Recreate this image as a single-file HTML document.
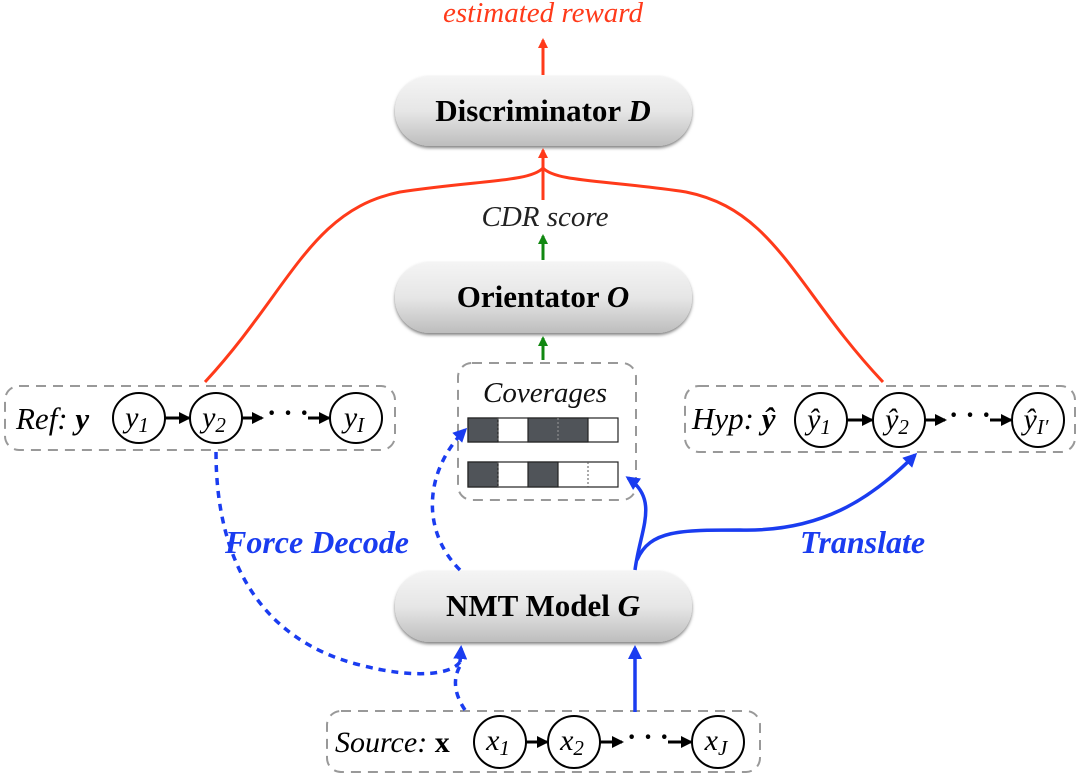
<!DOCTYPE html>
<html><head><meta charset="utf-8"><style>
html,body{margin:0;padding:0;background:#fff;}
svg{display:block;}
text{font-family:"Liberation Serif",serif;}
</style></head><body>
<svg width="1080" height="777" viewBox="0 0 1080 777" xmlns="http://www.w3.org/2000/svg">
<defs>
<linearGradient id="g" x1="0" y1="0" x2="0" y2="1">
<stop offset="0" stop-color="#f4f4f4"/><stop offset="0.5" stop-color="#e6e6e6"/><stop offset="1" stop-color="#bdbdbd"/>
</linearGradient>
<filter id="sh" x="-10%" y="-20%" width="120%" height="150%"><feDropShadow dx="0" dy="2" stdDeviation="1.5" flood-color="#000" flood-opacity="0.5"/></filter>
<marker id="ar" markerWidth="10" markerHeight="10" refX="8" refY="5" orient="auto" markerUnits="userSpaceOnUse"><path d="M0,0 L10,5 L0,10 z" fill="#ff3a1a"/></marker>
<marker id="ag" markerWidth="10" markerHeight="10" refX="8" refY="5" orient="auto" markerUnits="userSpaceOnUse"><path d="M0,0 L10,5 L0,10 z" fill="#118811"/></marker>
<marker id="ab" markerWidth="14" markerHeight="14" refX="11" refY="7" orient="auto" markerUnits="userSpaceOnUse"><path d="M0,0 L14,7 L0,14 z" fill="#1a3cf0"/></marker>
<marker id="ak" markerWidth="12" markerHeight="12" refX="10" refY="6" orient="auto" markerUnits="userSpaceOnUse"><path d="M0,0 L12,6 L0,12 z" fill="#000"/></marker>
</defs>

<text x="543" y="22" font-size="29" font-style="italic" fill="#ff3a1a" text-anchor="middle">estimated reward</text>
<line x1="543" y1="75" x2="543" y2="40" stroke="#ff3a1a" stroke-width="3" marker-end="url(#ar)"/>

<rect x="395" y="76" width="297" height="70" rx="35" fill="url(#g)" filter="url(#sh)"/>
<text x="543" y="121" font-size="31" font-weight="bold" text-anchor="middle">Discriminator <tspan font-style="italic">D</tspan></text>

<line x1="543" y1="200" x2="543" y2="150" stroke="#ff3a1a" stroke-width="3" marker-end="url(#ar)"/>
<path d="M205,382 C290,290 310,210 400,192 C480,180 530,182 543,168 C556,182 606,180 686,192 C776,210 796,290 883,382" fill="none" stroke="#ff3a1a" stroke-width="3"/>

<text x="545" y="226" font-size="29" font-style="italic" text-anchor="middle" fill="#222">CDR score</text>
<line x1="543" y1="260" x2="543" y2="236" stroke="#118811" stroke-width="3" marker-end="url(#ag)"/>

<rect x="395" y="262" width="297" height="71" rx="35" fill="url(#g)" filter="url(#sh)"/>
<text x="543" y="307" font-size="31" font-weight="bold" text-anchor="middle">Orientator <tspan font-style="italic">O</tspan></text>
<line x1="543" y1="360" x2="543" y2="338" stroke="#118811" stroke-width="3" marker-end="url(#ag)"/>

<rect x="458" y="363" width="178" height="137" rx="14" fill="none" stroke="#999" stroke-width="2" stroke-dasharray="10,7"/>
<text x="545" y="402" font-size="29" font-style="italic" text-anchor="middle" fill="#111">Coverages</text>
<g stroke="#222" stroke-width="1.2">
<rect x="468" y="418" width="150" height="24" fill="#fff"/>
<rect x="468" y="418" width="30" height="24" fill="#505459"/>
<rect x="528" y="418" width="60" height="24" fill="#505459"/>
<rect x="468" y="462" width="150" height="25" fill="#fff"/>
<rect x="468" y="462" width="30" height="25" fill="#505459"/>
<rect x="528" y="462" width="30" height="25" fill="#505459"/>
</g>
<line x1="498" y1="418" x2="498" y2="442" stroke="#555" stroke-dasharray="2,2"/>
<line x1="558" y1="418" x2="558" y2="442" stroke="#999" stroke-dasharray="2,2"/>
<line x1="498" y1="462" x2="498" y2="487" stroke="#555" stroke-dasharray="2,2"/>
<line x1="588" y1="462" x2="588" y2="487" stroke="#555" stroke-dasharray="2,2"/>

<rect x="5" y="386" width="390" height="64" rx="14" fill="none" stroke="#999" stroke-width="2" stroke-dasharray="10,7"/>
<text x="16" y="429" font-size="31" font-style="italic">Ref: <tspan font-weight="bold">y</tspan></text>
<g fill="#fff" stroke="#000" stroke-width="2">
<ellipse cx="139" cy="418" rx="26" ry="25"/><ellipse cx="216" cy="418" rx="26" ry="25"/><ellipse cx="356" cy="418" rx="26" ry="25"/>
</g>
<g font-size="30" font-style="italic" text-anchor="middle">
<text x="137" y="427">y<tspan font-size="21" dy="5">1</tspan></text>
<text x="214" y="427">y<tspan font-size="21" dy="5">2</tspan></text>
<text x="354" y="427">y<tspan font-size="21" dy="5">I</tspan></text>
</g>
<line x1="165" y1="418" x2="189" y2="418" stroke="#000" stroke-width="3" marker-end="url(#ak)"/>
<line x1="242" y1="418" x2="262" y2="418" stroke="#000" stroke-width="3" marker-end="url(#ak)"/>
<text x="288" y="422" font-size="28" font-weight="bold" text-anchor="middle">· · ·</text>
<line x1="308" y1="418" x2="329" y2="418" stroke="#000" stroke-width="3" marker-end="url(#ak)"/>

<rect x="685" y="386" width="390" height="66" rx="14" fill="none" stroke="#999" stroke-width="2" stroke-dasharray="10,7"/>
<text x="692" y="429" font-size="31" font-style="italic">Hyp: <tspan font-weight="bold">ŷ</tspan></text>
<g fill="#fff" stroke="#000" stroke-width="2">
<ellipse cx="821" cy="420" rx="26" ry="27"/><ellipse cx="899" cy="420" rx="26" ry="27"/><ellipse cx="1038" cy="420" rx="26" ry="27"/>
</g>
<g font-size="30" font-style="italic" text-anchor="middle">
<text x="819" y="429">ŷ<tspan font-size="21" dy="5">1</tspan></text>
<text x="897" y="429">ŷ<tspan font-size="21" dy="5">2</tspan></text>
<text x="1036" y="429">ŷ<tspan font-size="21" dy="5">I′</tspan></text>
</g>
<line x1="847" y1="420" x2="872" y2="420" stroke="#000" stroke-width="3" marker-end="url(#ak)"/>
<line x1="925" y1="420" x2="945" y2="420" stroke="#000" stroke-width="3" marker-end="url(#ak)"/>
<text x="970" y="424" font-size="28" font-weight="bold" text-anchor="middle">· · ·</text>
<line x1="990" y1="420" x2="1011" y2="420" stroke="#000" stroke-width="3" marker-end="url(#ak)"/>

<rect x="395" y="571" width="297" height="71" rx="35" fill="url(#g)" filter="url(#sh)"/>
<text x="543" y="616" font-size="31" font-weight="bold" text-anchor="middle">NMT Model <tspan font-style="italic">G</tspan></text>

<rect x="327" y="711" width="433" height="61" rx="14" fill="none" stroke="#999" stroke-width="2" stroke-dasharray="10,7"/>
<text x="335" y="752" font-size="30" font-style="italic">Source: <tspan font-weight="bold" font-style="normal">x</tspan></text>
<g fill="#fff" stroke="#000" stroke-width="2">
<ellipse cx="500" cy="742" rx="26" ry="26"/><ellipse cx="574" cy="742" rx="26" ry="26"/><ellipse cx="718" cy="742" rx="26" ry="26"/>
</g>
<g font-size="30" font-style="italic" text-anchor="middle">
<text x="498" y="750">x<tspan font-size="21" dy="5">1</tspan></text>
<text x="572" y="750">x<tspan font-size="21" dy="5">2</tspan></text>
<text x="716" y="750">x<tspan font-size="21" dy="5">J</tspan></text>
</g>
<line x1="526" y1="742" x2="547" y2="742" stroke="#000" stroke-width="3" marker-end="url(#ak)"/>
<line x1="600" y1="742" x2="622" y2="742" stroke="#000" stroke-width="3" marker-end="url(#ak)"/>
<text x="648" y="746" font-size="28" font-weight="bold" text-anchor="middle">· · ·</text>
<line x1="668" y1="742" x2="691" y2="742" stroke="#000" stroke-width="3" marker-end="url(#ak)"/>

<g fill="none" stroke="#1a3cf0" stroke-width="3.5">
<path d="M216,452 C216,560 260,640 360,665 C410,678 450,676 460,662" stroke-dasharray="7,6"/>
<line x1="460" y1="662" x2="461" y2="648" stroke-dasharray="7,6" marker-end="url(#ab)"/>
<path d="M465,710 C455,695 452,680 460,666" stroke-dasharray="7,6"/>
<path d="M460,570 C420,530 425,470 465,430" stroke-dasharray="7,6" marker-end="url(#ab)"/>
<line x1="635" y1="712" x2="635" y2="648" marker-end="url(#ab)"/>
<path d="M635,570 C640,530 660,500 628,478" marker-end="url(#ab)"/>
<path d="M637,560 C650,530 680,530 740,530 C820,532 870,500 915,455" marker-end="url(#ab)"/>
</g>
<text x="225" y="553" font-size="32" font-weight="bold" font-style="italic" fill="#1a3cf0">Force Decode</text>
<text x="800" y="553" font-size="32" font-weight="bold" font-style="italic" fill="#1a3cf0">Translate</text>
</svg>
</body></html>
